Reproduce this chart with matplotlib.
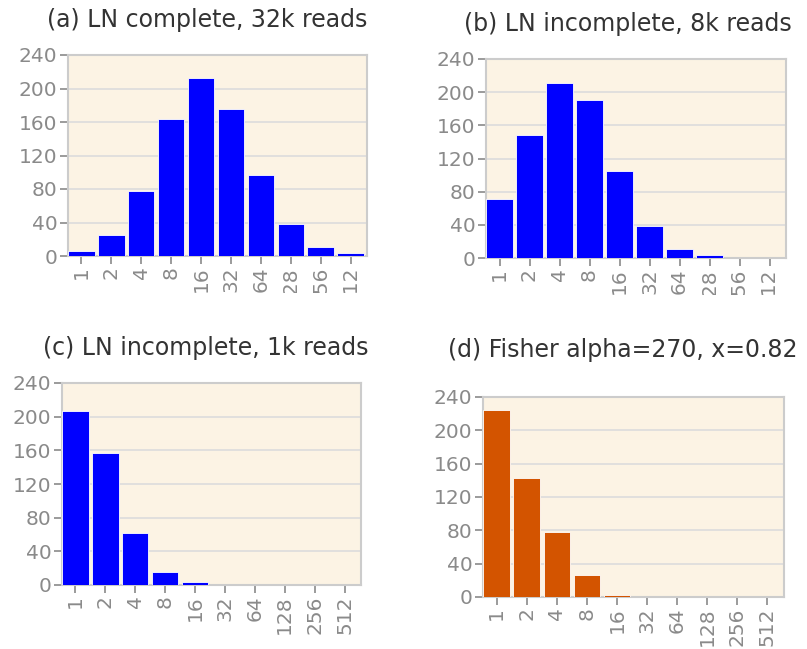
import matplotlib
matplotlib.use("Agg")
import matplotlib.pyplot as plt
from matplotlib.transforms import Bbox

# ----------------------------
# DATA
# ----------------------------
bins = ["1", "2", "4", "8", "16", "32", "64", "128", "256", "512"]

counts_a = [6, 25, 78, 164, 212, 176, 97, 38, 11, 4]
counts_b = [71, 148, 211, 190, 105, 39, 11, 4, 0, 0]
counts_c = [207, 157, 62, 16, 4, 0, 0, 0, 0, 0]
counts_d = [225, 143, 78, 27, 3, 0, 0, 0, 0, 0]

titles = [
    "(a) LN complete, 32k reads",
    "(b) LN incomplete, 8k reads",
    "(c) LN incomplete, 1k reads",
    "(d) Fisher alpha=270, x=0.82",
]

BLUE = "#0000ff"
ORANGE = "#d35400"
BG = "#fcf3e4"
GRID = "#dcdcdc"
FRAME = "#cccccc"
TICK = "#8a8a8a"

# ----------------------------
# Layout (pixels, converted to figure fractions)
# ----------------------------
W, H = 807, 649
panels = [
    # box = left, top, right, bottom; title centre x, y
    dict(box=(68, 55, 367, 256), title_xy=(207, 20), data=counts_a, color=BLUE, clip=293),
    dict(box=(486, 59, 786, 258), title_xy=(628, 24), data=counts_b, color=BLUE, clip=295),
    dict(box=(62, 383, 361, 585), title_xy=(206, 348), data=counts_c, color=BLUE, clip=None),
    dict(box=(483, 397, 784, 597), title_xy=(623, 350), data=counts_d, color=ORANGE, clip=None),
]

fig = plt.figure(figsize=(W / 100, H / 100), dpi=100)

for p, title in zip(panels, titles):
    l, t, r, b = p["box"]
    ax = fig.add_axes([l / W, 1 - b / H, (r - l) / W, (b - t) / H])
    ax.set_facecolor(BG)

    x = range(len(bins))
    ax.bar(x, p["data"], width=0.88, color=p["color"],
           edgecolor="white", linewidth=0.6, zorder=3)

    ax.set_xlim(-0.45, 9.55)
    ax.set_ylim(0, 240)
    ax.set_yticks(range(0, 241, 40))
    ax.set_xticks(list(x))
    ax.set_xticklabels(bins, rotation=90)

    ax.grid(axis="y", color=GRID, linewidth=1.2, zorder=0)
    for s in ax.spines.values():
        s.set_color(FRAME)
        s.set_linewidth(1.5)

    ax.tick_params(axis="both", colors=TICK, labelcolor=TICK,
                   labelsize=14.5, length=5.5, width=1.2, pad=2)

    # the original cuts off the long labels of the top row
    if p["clip"] is not None:
        clipbox = Bbox.from_extents(0, H - p["clip"], W, H)
        for lab in ax.get_xticklabels():
            lab.set_clip_on(True)
            lab.set_clip_box(clipbox)

    tx, ty = p["title_xy"]
    fig.text(tx / W, 1 - ty / H, title, ha="center", va="center",
             fontsize=17, color="#333333")

fig.savefig("out.png", dpi=100)
